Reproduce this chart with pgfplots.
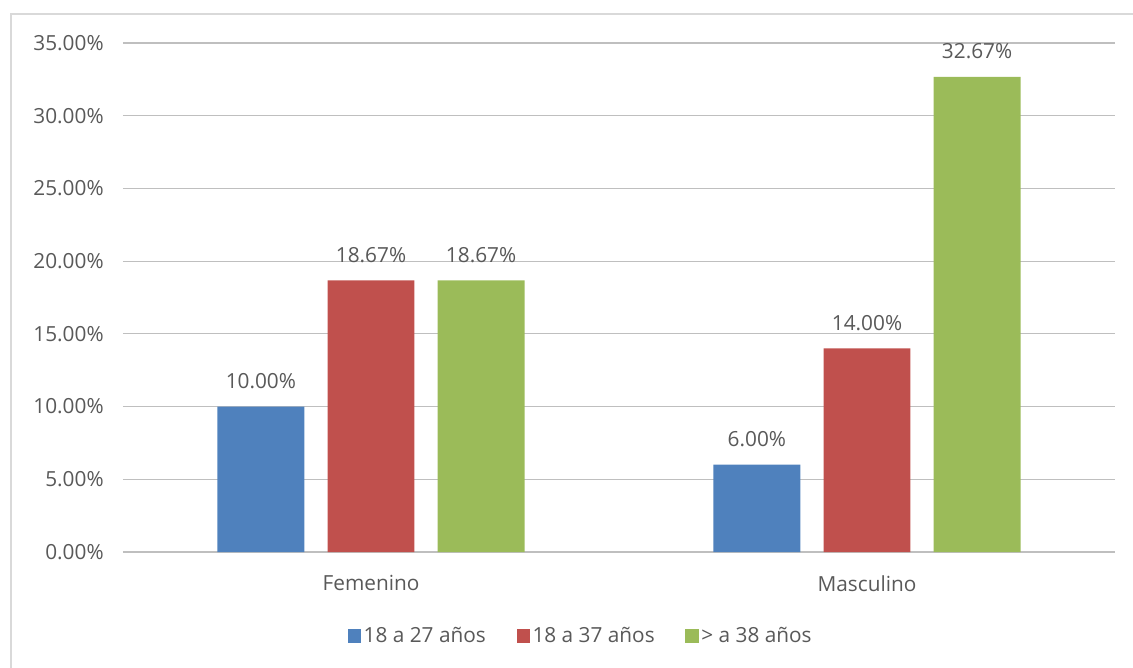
\documentclass[border=0pt]{standalone}
\usepackage{pgfplots}
\pgfplotsset{compat=1.18}
\usepackage{fontspec}
\setmainfont{Open Sans}
\definecolor{cblue}{HTML}{4F81BD}
\definecolor{cred}{HTML}{C0504D}
\definecolor{cgreen}{HTML}{9BBB59}
\definecolor{txt}{HTML}{595959}
\definecolor{grid}{HTML}{D9D9D9}
\begin{document}
\begin{tikzpicture}[x=1pt,y=1pt]
% page size: 1133x668 px at 0.75pt/px, axis origin at px (123,552)
\path[use as bounding box] (-92.25,-87) rectangle (757.5,414);
\draw[grid, line width=1.2pt] (-84,-87) -- (-84,403.5) -- (757.5,403.5);
\begin{axis}[
  at={(0,0)}, anchor=south west,
  scale only axis, width=744pt, height=381.75pt,
  ymin=0, ymax=35, xmin=-0.5, xmax=1.5,
  ytick={0,5,...,35},
  xtick={0,1}, xticklabels={Femenino,Masculino},
  xmajorgrids=false, ymajorgrids=true,
  grid style={grid, line width=0.9pt},
  axis line style={draw=none},
  major tick length=0pt, tick style={draw=none},
  /pgf/number format/assume math mode=true,
  yticklabel={\pgfmathprintnumber[fixed,fixed zerofill,precision=2]{\tick}\%},
  ticklabel style={font=\fontsize{15.6}{18}\selectfont, text=txt},
  yticklabel style={xshift=-11pt},
  xticklabel style={yshift=-14pt},
  ybar, bar width=0.175,
  nodes near coords={\pgfmathprintnumber[fixed,fixed zerofill,precision=2,assume math mode=true]{\pgfplotspointmeta}\%},
  nodes near coords style={font=\fontsize{15.6}{18}\selectfont, text=txt, yshift=10pt},
  legend columns=3,
  legend style={draw=none, at={(0.4617,-0.165)}, anchor=center,
    font=\fontsize{15.6}{18}\selectfont, text=txt,
    /tikz/every even column/.append style={column sep=21pt}},
  legend image code/.code={\fill[#1] (0pt,-5pt) rectangle (10pt,5pt);},
]
\addplot[fill=cblue, draw=none, bar shift=-0.222] coordinates {(0,10.00) (1,6.00)};
\addlegendentry{18 a 27 años}
\addplot[fill=cred, draw=none, bar shift=0] coordinates {(0,18.67) (1,14.00)};
\addlegendentry{18 a 37 años}
\addplot[fill=cgreen, draw=none, bar shift=0.222] coordinates {(0,18.67) (1,32.67)};
\addlegendentry{> a 38 años}
\end{axis}
\end{tikzpicture}
\end{document}
